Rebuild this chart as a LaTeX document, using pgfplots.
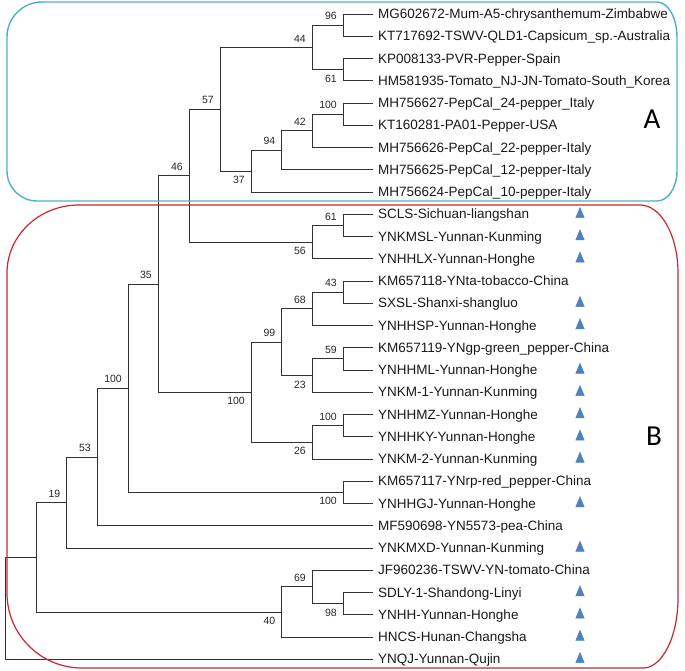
\documentclass[border=0pt]{standalone}
\usepackage{pgfplots}
\pgfplotsset{compat=1.18}
\usepackage{pgfplotstable}
\usepackage{fontspec}
\setmainfont{Liberation Sans}
\newfontfamily\calibri{Carlito}
\definecolor{boxblue}{RGB}{75,175,205}
\definecolor{boxred}{RGB}{200,40,45}
\definecolor{tri}{RGB}{79,129,189}
\definecolor{branch}{RGB}{50,50,50}

% tree branches in pixel units, one bracket per internal node
\pgfplotstableread{
x y
373 14
343 14
343 36.25
373 36.25
nan nan
373 58.5
343 58.5
343 80.75
373 80.75
nan nan
343 25.1
312 25.1
312 69.6
343 69.6
nan nan
373 103
343 103
343 125.25
373 125.25
nan nan
343 114.1
312 114.1
312 147.5
373 147.5
nan nan
312 130.8
281.5 130.8
281.5 169.75
373 169.75
nan nan
281.5 150.3
251 150.3
251 192
373 192
nan nan
312 47.4
220 47.4
220 171.1
251 171.1
nan nan
373 214.25
343 214.25
343 236.5
373 236.5
nan nan
343 225.4
312 225.4
312 258.75
373 258.75
nan nan
220 109.3
189 109.3
189 242.1
312 242.1
nan nan
373 281
343 281
343 303.25
373 303.25
nan nan
343 292.1
312 292.1
312 325.5
373 325.5
nan nan
373 347.75
343 347.75
343 370
373 370
nan nan
343 358.9
312 358.9
312 392.25
373 392.25
nan nan
312 308.8
281.5 308.8
281.5 375.6
312 375.6
nan nan
373 414.5
343 414.5
343 436.75
373 436.75
nan nan
343 425.6
312 425.6
312 459
373 459
nan nan
281.5 342.2
251 342.2
251 442.3
312 442.3
nan nan
189 175.7
158 175.7
158 392.3
251 392.3
nan nan
373 481.25
343 481.25
343 503.5
373 503.5
nan nan
158 284
128 284
128 492.4
343 492.4
nan nan
128 388.2
97 388.2
97 525.75
373 525.75
nan nan
97 457
66.5 457
66.5 548
373 548
nan nan
373 592.5
343 592.5
343 614.75
373 614.75
nan nan
373 570.25
312 570.25
312 603.6
343 603.6
nan nan
312 586.9
281.5 586.9
281.5 637
373 637
nan nan
66.5 502.5
36 502.5
36 612
281.5 612
nan nan
36 557.3
5 557.3
5 659.25
373 659.25
}\tree

\begin{document}
\begin{tikzpicture}[
  leaf/.style={anchor=base west, inner sep=0pt, font=\fontsize{13.5bp}{16bp}\selectfont, text=black!90},
  bs/.style={inner sep=0pt, font=\fontsize{10.5bp}{12bp}\selectfont, text=black!85},
]
\begin{axis}[
  width=685bp, height=671bp, scale only axis,
  xmin=0, xmax=685, ymin=0, ymax=671, y dir=reverse,
  hide axis, clip=false,
]
\addplot[branch, line width=0.9bp, unbounded coords=jump] table {\tree};

\addplot[only marks, mark=triangle*, mark size=6.8bp, color=tri,
  mark options={xscale=0.72}] coordinates {
(580,214.25) (580,236.5) (580,258.75) (580,303.25) (580,325.5)
(580,370) (580,392.25) (580,414.5) (580,436.75) (580,459)
(580,503.5) (580,548) (580,592.5) (580,614.75) (580,637) (580,659.25)};

% leaf names
\node[leaf] at (axis cs:378,18.7) {MG602672-Mum-A5-chrysanthemum-Zimbabwe};
\node[leaf] at (axis cs:378,40.95) {KT717692-TSWV-QLD1-Capsicum\_sp.-Australia};
\node[leaf] at (axis cs:378,63.2) {KP008133-PVR-Pepper-Spain};
\node[leaf] at (axis cs:378,85.45) {HM581935-Tomato\_NJ-JN-Tomato-South\_Korea};
\node[leaf] at (axis cs:378,107.7) {MH756627-PepCal\_24-pepper\_Italy};
\node[leaf] at (axis cs:378,129.95) {KT160281-PA01-Pepper-USA};
\node[leaf] at (axis cs:378,152.2) {MH756626-PepCal\_22-pepper-Italy};
\node[leaf] at (axis cs:378,174.45) {MH756625-PepCal\_12-pepper-Italy};
\node[leaf] at (axis cs:378,196.7) {MH756624-PepCal\_10-pepper-Italy};
\node[leaf] at (axis cs:378,218.95) {SCLS-Sichuan-liangshan};
\node[leaf] at (axis cs:378,241.2) {YNKMSL-Yunnan-Kunming};
\node[leaf] at (axis cs:378,263.45) {YNHHLX-Yunnan-Honghe};
\node[leaf] at (axis cs:378,285.7) {KM657118-YNta-tobacco-China};
\node[leaf] at (axis cs:378,307.95) {SXSL-Shanxi-shangluo};
\node[leaf] at (axis cs:378,330.2) {YNHHSP-Yunnan-Honghe};
\node[leaf] at (axis cs:378,352.45) {KM657119-YNgp-green\_pepper-China};
\node[leaf] at (axis cs:378,374.7) {YNHHML-Yunnan-Honghe};
\node[leaf] at (axis cs:378,396.95) {YNKM-1-Yunnan-Kunming};
\node[leaf] at (axis cs:378,419.2) {YNHHMZ-Yunnan-Honghe};
\node[leaf] at (axis cs:378,441.45) {YNHHKY-Yunnan-Honghe};
\node[leaf] at (axis cs:378,463.7) {YNKM-2-Yunnan-Kunming};
\node[leaf] at (axis cs:378,485.95) {KM657117-YNrp-red\_pepper-China};
\node[leaf] at (axis cs:378,508.2) {YNHHGJ-Yunnan-Honghe};
\node[leaf] at (axis cs:378,530.45) {MF590698-YN5573-pea-China};
\node[leaf] at (axis cs:378,552.7) {YNKMXD-Yunnan-Kunming};
\node[leaf] at (axis cs:378,574.95) {JF960236-TSWV-YN-tomato-China};
\node[leaf] at (axis cs:378,597.2) {SDLY-1-Shandong-Linyi};
\node[leaf] at (axis cs:378,619.45) {YNHH-Yunnan-Honghe};
\node[leaf] at (axis cs:378,641.7) {HNCS-Hunan-Changsha};
\node[leaf] at (axis cs:378,663.95) {YNQJ-Yunnan-Qujin};

% bootstrap values above the node
\node[bs, anchor=south east] at (axis cs:337,20.1) {96};
\node[bs, anchor=south east] at (axis cs:306,42.4) {44};
\node[bs, anchor=south east] at (axis cs:337,109.1) {100};
\node[bs, anchor=south east] at (axis cs:306,125.8) {42};
\node[bs, anchor=south east] at (axis cs:275.5,145.3) {94};
\node[bs, anchor=south east] at (axis cs:214,104.3) {57};
\node[bs, anchor=south east] at (axis cs:183,170.7) {46};
\node[bs, anchor=south east] at (axis cs:337,220.4) {61};
\node[bs, anchor=south east] at (axis cs:152,279) {35};
\node[bs, anchor=south east] at (axis cs:337,287.1) {43};
\node[bs, anchor=south east] at (axis cs:306,303.8) {68};
\node[bs, anchor=south east] at (axis cs:337,353.9) {59};
\node[bs, anchor=south east] at (axis cs:275.5,337.2) {99};
\node[bs, anchor=south east] at (axis cs:337,420.6) {100};
\node[bs, anchor=south east] at (axis cs:122,383.2) {100};
\node[bs, anchor=south east] at (axis cs:91,452) {53};
\node[bs, anchor=south east] at (axis cs:60.5,497.5) {19};
\node[bs, anchor=south east] at (axis cs:306,581.9) {69};
% bootstrap values below the node
\node[bs, anchor=north east] at (axis cs:337,74.6) {61};
\node[bs, anchor=north east] at (axis cs:245,176.1) {37};
\node[bs, anchor=north east] at (axis cs:306,247.1) {56};
\node[bs, anchor=north east] at (axis cs:306,380.6) {23};
\node[bs, anchor=north east] at (axis cs:245,397.3) {100};
\node[bs, anchor=north east] at (axis cs:306,447.3) {26};
\node[bs, anchor=north east] at (axis cs:337,497.4) {100};
\node[bs, anchor=north east] at (axis cs:337,608.6) {98};
\node[bs, anchor=north east] at (axis cs:275.5,617) {40};

\node[anchor=base, inner sep=0pt, font=\calibri\fontsize{29bp}{32bp}\selectfont] at (axis cs:652,128.5) {A};
\node[anchor=base, inner sep=0pt, font=\calibri\fontsize{29bp}{32bp}\selectfont] at (axis cs:654,445) {B};
\end{axis}

% clade boxes, pixel frame with y up
\begin{scope}[x=1bp, y=1bp]
\draw[boxblue, line width=1.4bp] (42,669) -- (657,669)
  arc[start angle=90, end angle=0, x radius=20bp, y radius=35bp] -- (677,500)
  arc[start angle=0, end angle=-90, x radius=20bp, y radius=30bp] -- (37,470)
  arc[start angle=270, end angle=180, radius=30bp] -- (7,634)
  arc[start angle=180, end angle=90, radius=35bp] -- cycle;
\draw[boxred, line width=1.2bp] (79,466) -- (640,466)
  arc[start angle=90, end angle=0, x radius=38bp, y radius=68bp] -- (678,73)
  arc[start angle=0, end angle=-90, x radius=35bp, y radius=70bp] -- (82,3)
  arc[start angle=270, end angle=180, radius=75bp] -- (7,398)
  arc[start angle=180, end angle=90, x radius=72bp, y radius=68bp] -- cycle;
\end{scope}
\pgfresetboundingbox
\path (0,0) rectangle (685bp,671bp);
\end{tikzpicture}
\end{document}
